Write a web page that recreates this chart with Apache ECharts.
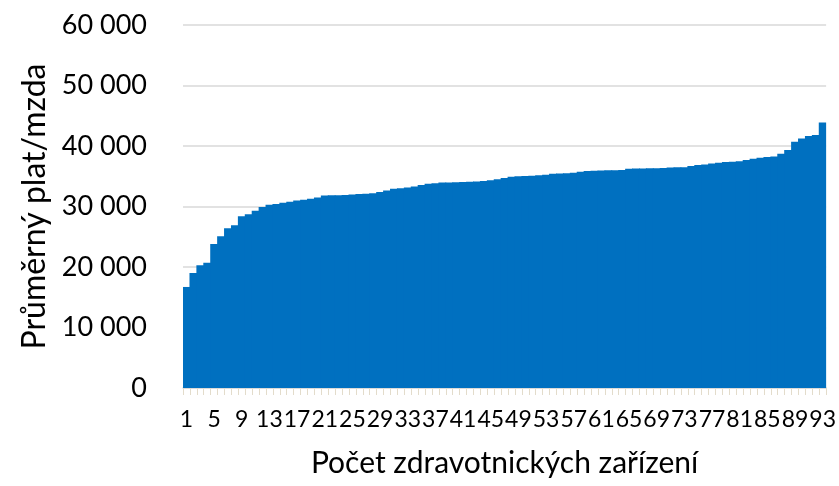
<!DOCTYPE html>
<html>
<head>
<meta charset="utf-8">
<script src="https://cdn.jsdelivr.net/npm/echarts@6/dist/echarts.min.js"></script>
<style>
html,body{margin:0;padding:0;background:#fff;}
#c{width:839px;height:486px;}
</style>
</head>
<body>
<div id="c"></div>
<script>
var categories = [];
for (var i = 1; i <= 93; i++) categories.push(String(i));

var salaries = [
  16700, 19000, 20300, 20700, 23800, 25100, 26400, 26900, 28400, 28700,
  29300, 29900, 30300, 30400, 30600, 30800, 31000, 31100, 31300, 31500,
  31800, 31850, 31850, 31900, 32000, 32050, 32100, 32200, 32400, 32650,
  32950, 33000, 33150, 33300, 33550, 33750, 33850, 33950, 33980, 34000,
  34050, 34100, 34150, 34200, 34350, 34500, 34700, 34900, 35000, 35050,
  35100, 35150, 35250, 35400, 35450, 35500, 35580, 35750, 35850, 35900,
  35950, 35980, 36000, 36050, 36250, 36280, 36300, 36320, 36340, 36380,
  36450, 36470, 36500, 36680, 36850, 36960, 37100, 37250, 37350, 37400,
  37500, 37680, 37900, 38070, 38200, 38250, 38730, 39340, 40720, 41220,
  41660, 41820, 43870
];

var yTicks = [0, 10000, 20000, 30000, 40000, 50000, 60000];
var xTitle = 'Počet zdravotnických zařízení';
var yTitle = 'Průměrný plat/mzda';

var FONT = 'Lato, "Open Sans", sans-serif';

function fmt(v) {
  return String(v).replace(/\B(?=(\d{3})+(?!\d))/g, ' ');
}

var chart = echarts.init(document.getElementById('c'), null, {renderer: 'canvas'});
chart.setOption({
  animation: false,
  backgroundColor: '#ffffff',
  grid: {left: 183, right: 11, top: 25, bottom: 98, containLabel: false},
  xAxis: {
    type: 'category',
    data: categories,
    name: xTitle,
    nameLocation: 'middle',
    nameGap: 60,
    nameTextStyle: {fontFamily: FONT, fontSize: 30, color: '#000'},
    axisLine: {show: true, lineStyle: {color: '#d9d9d9', width: 1.5}},
    axisTick: {show: true, interval: 0, length: 7, lineStyle: {color: '#e3dccb', width: 1}},
    axisLabel: {interval: 3, fontFamily: FONT, fontSize: 23, color: '#000', margin: 20, hideOverlap: false}
  },
  yAxis: {
    type: 'value',
    min: yTicks[0],
    max: yTicks[yTicks.length - 1],
    interval: 10000,
    name: yTitle,
    nameLocation: 'middle',
    nameGap: 130,
    nameRotate: 90,
    nameTextStyle: {fontFamily: FONT, fontSize: 32, color: '#000'},
    axisLine: {show: false},
    axisTick: {show: false},
    axisLabel: {fontFamily: FONT, fontSize: 27, color: '#000', margin: 36, formatter: fmt},
    splitLine: {show: true, lineStyle: {color: '#d9d9d9', width: 1.5}}
  },
  series: [{
    type: 'bar',
    data: salaries,
    barWidth: 7.8,
    itemStyle: {color: '#0070c0'}
  }]
});
</script>
</body>
</html>
